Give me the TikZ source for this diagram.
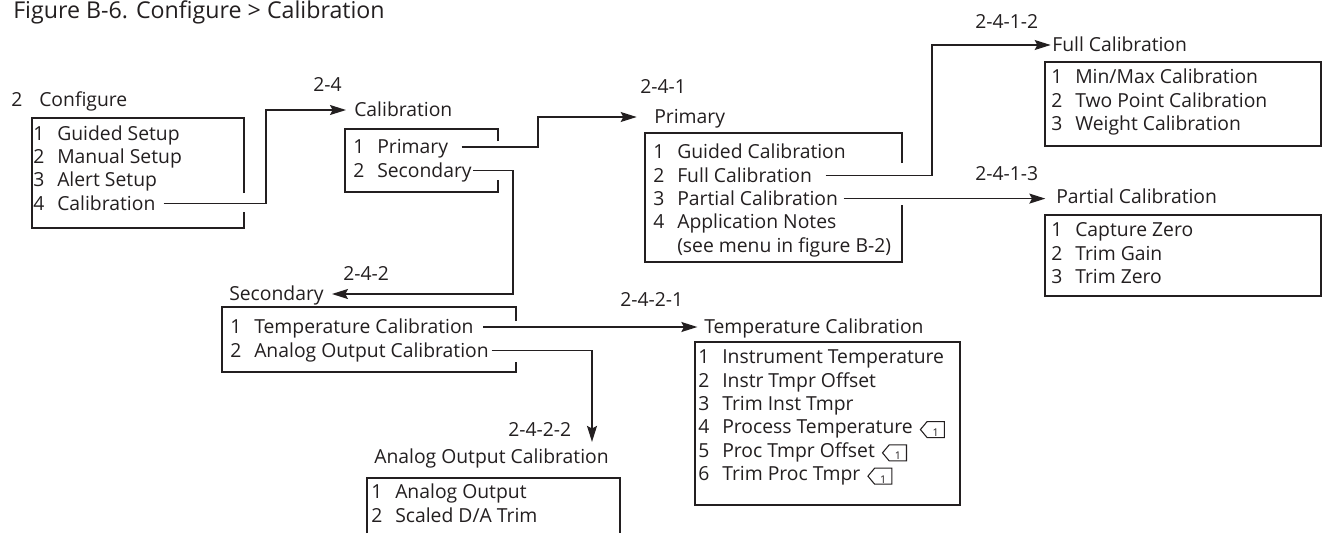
\documentclass[tikz,border=0pt]{standalone}
\usepackage{fontspec}
\setmainfont{Open Sans}
\usetikzlibrary{positioning, shapes.symbols, arrows.meta}
\definecolor{ink}{HTML}{231F20}
\newcommand{\mnum}[1]{\makebox[18pt][l]{#1}}

\begin{document}
\begin{tikzpicture}[x=0.75pt, y=-0.75pt,
  every node/.style={font=\fontsize{14.5}{17}\selectfont, text=ink,
                     inner sep=0pt, text height=10.3pt, text depth=0pt, anchor=west},
  caption/.style={font=\fontsize{17.4}{20}\selectfont, text height=12.4pt},
  frame/.style={draw=ink, line width=1pt},
  link/.style={draw=ink, line width=1pt,
               -{Stealth[length=12pt, width=7.5pt, inset=2pt]}, shorten >=6pt},
  keytag/.style={signal, signal to=west, signal pointer angle=100, draw=ink,
                 line width=0.8pt, minimum width=18pt, minimum height=12pt,
                 font=\fontsize{8}{8}\selectfont, text height=5.5pt}
]
  \path[use as bounding box, fill=white] (0,0) rectangle (1322,533);

  \node[caption] (title) at (13,9.8) {Figure B-6. Configure > Calibration};

  % 2 Configure
  \draw[frame] (244,193) |- (32,118) |- (244,228) -- (244,212);
  \node (cfgno) at (11,99.5)  {2};
  \node (cfgt)  at (39,99.5)  {Configure};
  \node (cfg1)  at (33,133.5) {\mnum{1}Guided Setup};
  \node (cfg2)  at (33,156.8) {\mnum{2}Manual Setup};
  \node (cfg3)  at (33,180.1) {\mnum{3}Alert Setup};
  \node (cfg4)  at (33,203.4) {\mnum{4}Calibration};

  % 2-4 Calibration
  \draw[frame] (498,141) |- (345,129) |- (498,192) -- (498,180);
  \node (c24)  at (313,84.5) {2-4};
  \node (calt) at (354,110)  {Calibration};
  \node (cal1) at (353,147)  {\mnum{1}Primary};
  \node (cal2) at (353,170.3) {\mnum{2}Secondary};

  % 2-4-1 Primary
  \draw[frame] (902,163) |- (645,133) |- (902,262) -- (902,205);
  \node (c241)  at (640,86.5)  {2-4-1};
  \node (primt) at (654,117)   {Primary};
  \node (prim1) at (653,152)   {\mnum{1}Guided Calibration};
  \node (prim2) at (653,175.3) {\mnum{2}Full Calibration};
  \node (prim3) at (653,198.6) {\mnum{3}Partial Calibration};
  \node (prim4) at (653,221.9) {\mnum{4}Application Notes};
  \node (prim5) at (653,245.2) {\mnum{}(see menu in figure B-2)};

  % 2-4-1-2 Full Calibration
  \draw[frame] (1045,62) rectangle (1321,146);
  \node (c2412) at (975,21.5)   {2-4-1-2};
  \node (fullt) at (1052,45)    {Full Calibration};
  \node (full1) at (1051,77)    {\mnum{1}Min/Max Calibration};
  \node (full2) at (1051,100.3) {\mnum{2}Two Point Calibration};
  \node (full3) at (1051,123.6) {\mnum{3}Weight Calibration};

  % 2-4-1-3 Partial Calibration
  \draw[frame] (1045,215) rectangle (1321,296);
  \node (c2413) at (975,173.5)  {2-4-1-3};
  \node (partt) at (1056,197)   {Partial Calibration};
  \node (part1) at (1051,230)   {\mnum{1}Capture Zero};
  \node (part2) at (1051,253.3) {\mnum{2}Trim Gain};
  \node (part3) at (1051,276.6) {\mnum{3}Trim Zero};

  % 2-4-2 Secondary
  \draw[frame] (516,321) |- (222,307) |- (516,372) -- (516,362);
  \node (c242) at (343,273.5) {2-4-2};
  \node (sect) at (229,294)   {Secondary};
  \node (sec1) at (230,327)   {\mnum{1}Temperature Calibration};
  \node (sec2) at (230,350.3) {\mnum{2}Analog Output Calibration};

  % 2-4-2-1 Temperature Calibration
  \draw[frame] (695,342) rectangle (960,505);
  \node (c2421) at (620,300)   {2-4-2-1};
  \node (tempt) at (704,327)   {Temperature Calibration};
  \node (temp1) at (698,357)   {\mnum{1}Instrument Temperature};
  \node (temp2) at (698,380.3) {\mnum{2}Instr Tmpr Offset};
  \node (temp3) at (698,403.6) {\mnum{3}Trim Inst Tmpr};
  \node (temp4) at (698,426.9) {\mnum{4}Process Temperature};
  \node (temp5) at (698,450.2) {\mnum{5}Proc Tmpr Offset};
  \node (temp6) at (698,473.5) {\mnum{6}Trim Proc Tmpr};
  \node[keytag, right=5pt of temp4, yshift=-2pt] (tag4) {\raisebox{-2.5pt}{1}};
  \node[keytag, right=5pt of temp5, yshift=-2pt] (tag5) {\raisebox{-2.5pt}{1}};
  \node[keytag, right=5pt of temp6, yshift=-2pt] (tag6) {\raisebox{-2.5pt}{1}};

  % 2-4-2-2 Analog Output Calibration
  \draw[frame] (367,533) |- (620,478) -- (620,533);
  \node (c2422) at (508,430)   {2-4-2-2};
  \node (aoct)  at (374,457)   {Analog Output Calibration};
  \node (aoc1)  at (371,492)   {\mnum{1}Analog Output};
  \node (aoc2)  at (371,515.3) {\mnum{2}Scaled D/A Trim};

  % connectors
  \draw[link] ([xshift=6pt]cfg4.east) -- (cfg4 -| 266,0) |- (calt);
  \draw[link, shorten >=13pt] ([xshift=10pt]cal1.east) -- (cal1 -| 538,0) |- (primt);
  \draw[link] ([xshift=1pt]cal2.east) -- (cal2 -| 513,0) |- (sect);
  \draw[link, shorten >=1pt] ([xshift=10pt]prim2.east) -- (prim2 -| 932,0) |- (fullt);
  \draw[link, shorten >=8pt] ([xshift=4pt]prim3.east) -- (prim3 -| partt.west);
  \draw[link, shorten >=5pt] ([xshift=7pt]sec1.east) -- (sec1 -| tempt.west);
  \draw[link] ([xshift=2pt]sec2.east) -- (sec2 -| 592,0) -- (aoct.north -| 592,0);
\end{tikzpicture}
\end{document}
